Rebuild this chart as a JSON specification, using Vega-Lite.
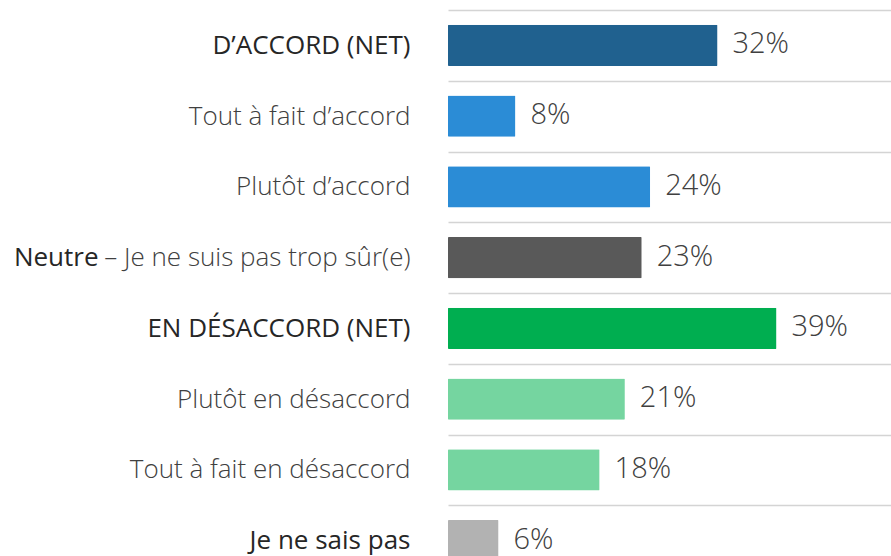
{
  "$schema": "https://vega.github.io/schema/vega-lite/v6.json",
  "width": 443,
  "height": 546,
  "autosize": {"type": "none"},
  "padding": {"left": 448, "top": 10, "right": 0, "bottom": 0},
  "background": "white",
  "config": {"view": {"stroke": null}, "font": "Open Sans"},
  "data": {
    "values": [
      {"label": "D’ACCORD (NET)", "value": 32, "group": "net_accord"},
      {"label": "Tout à fait d’accord", "value": 8, "group": "accord"},
      {"label": "Plutôt d’accord", "value": 24, "group": "accord"},
      {"label": "Neutre – Je ne suis pas trop sûr(e)", "value": 23, "group": "neutre"},
      {"label": "EN DÉSACCORD (NET)", "value": 39, "group": "net_desaccord"},
      {"label": "Plutôt en désaccord", "value": 21, "group": "desaccord"},
      {"label": "Tout à fait en désaccord", "value": 18, "group": "desaccord"},
      {"label": "Je ne sais pas", "value": 6, "group": "nsp"}
    ]
  },
  "transform": [{"calculate": "datum.value + '%'", "as": "pct"}],
  "resolve": {"axis": {"y": "independent"}},
  "layer": [
    {
      "mark": {"type": "bar", "height": {"band": 0.58}, "cornerRadius": 1},
      "encoding": {
        "y": {
          "field": "label",
          "type": "nominal",
          "sort": null,
          "scale": {"range": [0, 566], "paddingInner": 0, "paddingOuter": 0},
          "axis": {
            "orient": "left",
            "title": null,
            "domain": false,
            "ticks": false,
            "grid": true,
            "tickBand": "extent",
            "gridColor": "#d4d4d4",
            "gridWidth": 1.5,
            "labelPadding": 38,
            "labelLimit": 600,
            "labelFont": "Open Sans",
            "labelFontSize": 26,
            "labelExpr": "datum.value == 'Neutre – Je ne suis pas trop sûr(e)' ? '– Je ne suis pas trop sûr(e)' : datum.value",
            "labelColor": {"condition": {"test": "indexof(['D’ACCORD (NET)','EN DÉSACCORD (NET)','Je ne sais pas'], datum.value) >= 0", "value": "#262626"}, "value": "#404040"},
            "labelFontWeight": {"condition": {"test": "indexof(['D’ACCORD (NET)','EN DÉSACCORD (NET)','Je ne sais pas'], datum.value) >= 0", "value": 400}, "value": 300}
          }
        },
        "x": {
          "field": "value",
          "type": "quantitative",
          "scale": {"domain": [0, 52.6], "nice": false, "zero": true},
          "axis": null
        },
        "color": {
          "field": "group",
          "type": "nominal",
          "legend": null,
          "scale": {
            "domain": ["net_accord", "accord", "neutre", "net_desaccord", "desaccord", "nsp"],
            "range": ["#20618F", "#2B8CD6", "#595959", "#00AE50", "#75D5A0", "#B2B2B2"]
          }
        }
      }
    },
    {
      "mark": {"type": "text", "align": "left", "baseline": "middle", "dx": 15, "dy": -1, "fontSize": 29, "fontWeight": 300, "font": "Open Sans", "color": "#404040"},
      "encoding": {
        "y": {
          "field": "label",
          "type": "nominal",
          "sort": null,
          "axis": {
            "orient": "left",
            "title": null,
            "domain": false,
            "ticks": false,
            "grid": false,
            "offset": 0,
            "labelPadding": 350,
            "labelLimit": 600,
            "labelFont": "Open Sans",
            "labelFontSize": 26,
            "labelFontWeight": 400,
            "labelColor": "#262626",
            "labelExpr": "datum.value == 'Neutre – Je ne suis pas trop sûr(e)' ? 'Neutre' : ''"
          }
        },
        "x": {"field": "value", "type": "quantitative"},
        "text": {"field": "pct", "type": "nominal"}
      }
    }
  ]
}
